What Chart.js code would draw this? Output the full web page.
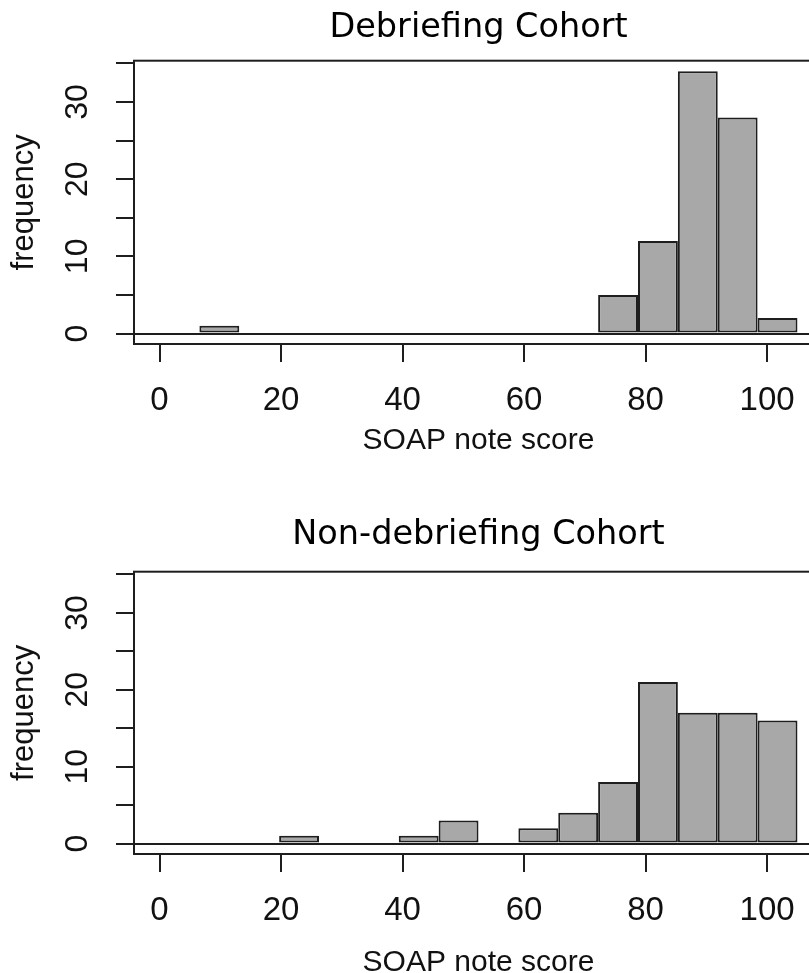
<!DOCTYPE html>
<html><head><meta charset="utf-8">
<script src="https://cdn.jsdelivr.net/npm/chart.js@4.4.1/dist/chart.umd.min.js"></script>
<style>
html,body{margin:0;padding:0;background:#fff;overflow:hidden;}
#wrap{position:relative;width:809px;height:973px;overflow:hidden;background:#fff;}
.panel{position:absolute;left:0;width:823px;height:510px;}
</style></head><body>
<div id="wrap">
<div class="panel" style="top:0"><canvas id="c1" width="823" height="510"></canvas></div>
<div class="panel" style="top:510px"><canvas id="c2" width="823" height="510"></canvas></div>
</div>
<script>
// histogram bin edges (SOAP note score)
const binEdges = [0, 6.5625, 13.125, 19.6875, 26.25, 32.8125, 39.375, 45.9375, 52.5, 59.0625, 65.625, 72.1875, 78.75, 85.3125, 91.875, 98.4375, 105];
// frequencies per bin
const debriefCounts    = [0, 1, 0, 0, 0, 0, 0, 0, 0, 0, 0, 5, 12, 34, 28, 2];
const nonDebriefCounts = [0, 0, 0, 1, 0, 0, 1, 3, 0, 2, 4, 8, 21, 17, 17, 16];
const xTicks = [0, 20, 40, 60, 80, 100];
const yTicks = [0, 5, 10, 15, 20, 25, 30, 35];
const yLabelled = [0, 10, 20, 30];
const panelTitles = ['Debriefing Cohort', 'Non-debriefing Cohort'];
const xTitle = 'SOAP note score';
const yTitle = 'frequency';

const INK = '#1e1e1e';
const SANS = "'Liberation Sans', Arial, sans-serif";

const boxPlugin = {
  id: 'box',
  afterDatasetsDraw(chart) {
    const {ctx, chartArea: a} = chart;
    ctx.save();
    ctx.strokeStyle = INK;
    ctx.lineWidth = 2;
    ctx.strokeRect(a.left, a.top, a.right - a.left, a.bottom - a.top);
    ctx.restore();
  }
};

function makeChart(id, counts, title, t) {
  const pts = counts.map((c, i) => ({x: (binEdges[i] + binEdges[i + 1]) / 2, y: c}));
  return new Chart(document.getElementById(id), {
    type: 'bar',
    data: {datasets: [{
      data: pts,
      backgroundColor: '#a8a8a8',
      borderColor: INK,
      borderWidth: 2,
      borderSkipped: false,
      barPercentage: 1,
      categoryPercentage: 1,
      inflateAmount: 0
    }]},
    options: {
      responsive: false,
      animation: false,
      devicePixelRatio: 1,
      layout: {padding: 0},
      plugins: {
        legend: {display: false},
        tooltip: {enabled: false},
        title: {
          display: true, text: title, fullSize: false, color: '#000',
          font: {family: "'DejaVu Sans', sans-serif", size: 33.5, weight: 'normal', lineHeight: 1.2},
          padding: {top: t.titleTop, bottom: t.titleBottom}
        }
      },
      scales: {
        x: {
          type: 'linear', min: -4.2, max: 109.2, offset: false,
          afterBuildTicks: s => { s.ticks = xTicks.map(v => ({value: v})); },
          afterFit: s => { s.height = 510 - 344; },
          border: {display: false},
          grid: {display: true, offset: false, drawOnChartArea: false, drawTicks: true, tickLength: 18, tickColor: INK, tickWidth: 2, lineWidth: 2},
          ticks: {autoSkip: false, maxRotation: 0, padding: 19.6, color: '#111', font: {family: SANS, size: 33}},
          title: {display: true, text: xTitle, color: '#111', font: {family: SANS, size: 30, lineHeight: 1.2}, padding: {top: 0, bottom: t.xTitleBottom}}
        },
        y: {
          type: 'linear', min: -1.36, max: 35.36,
          afterBuildTicks: s => { s.ticks = yTicks.map(v => ({value: v})); },
          afterFit: s => { s.width = 134; },
          border: {display: false},
          grid: {
            color: c => (c.tick && c.tick.value === 0) ? INK : 'rgba(0,0,0,0)',
            tickColor: INK, lineWidth: 2, tickWidth: 2, drawTicks: true, tickLength: 18
          },
          ticks: {
            autoSkip: false, minRotation: 90, maxRotation: 90, crossAlign: 'center', padding: 20,
            color: '#111', font: {family: SANS, size: 32},
            callback: v => yLabelled.includes(v) ? String(v) : ''
          },
          title: {display: true, text: yTitle, color: '#111', font: {family: SANS, size: 31, lineHeight: 1.2}, padding: {top: 6.2, bottom: 0}}
        }
      }
    },
    plugins: [boxPlugin]
  });
}

makeChart('c1', debriefCounts, panelTitles[0], {titleTop: 8.6, titleBottom: 11.9, xTitleBottom: 51});
makeChart('c2', nonDebriefCounts, panelTitles[1], {titleTop: 5.5, titleBottom: 16, xTitleBottom: 39});
</script>
</body></html>
